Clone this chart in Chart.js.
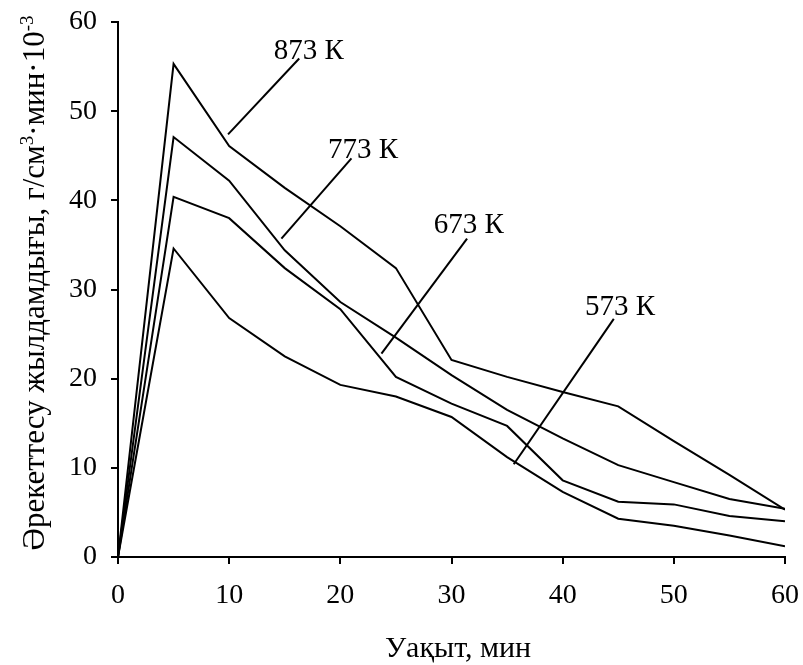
<!DOCTYPE html>
<html>
<head>
<meta charset="utf-8">
<script src="https://cdn.jsdelivr.net/npm/chart.js@4/dist/chart.umd.min.js"></script>
<style>
    html, body { margin: 0; padding: 0; background: #fff; }
    canvas { display: block; }
</style>
</head>
<body>
<canvas id="chart_rate" width="803" height="665"></canvas>
<script>
// time, min
let minutes = [0, 5, 10, 15, 20, 25, 30, 35, 40, 45, 50, 55, 60];
// rate, g/cm3*min*10^-3
let rate_873 = [0, 55.3, 46.1, 41.4, 37.1, 32.4, 22.1, 20.2, 18.5, 16.9, 13.0, 9.2, 5.3];
let rate_773 = [0, 47.1, 42.2, 34.4, 28.6, 24.6, 20.4, 16.5, 13.3, 10.3, 8.4, 6.5, 5.4];
let rate_673 = [0, 40.4, 38.0, 32.4, 27.8, 20.2, 17.2, 14.7, 8.6, 6.2, 5.9, 4.6, 4.0];
let rate_573 = [0, 34.6, 26.8, 22.5, 19.3, 18.0, 15.7, 11.2, 7.3, 4.3, 3.5, 2.4, 1.2];
let series_names = ['873 К', '773 К', '673 К', '573 К'];
let x_ticks = [0, 10, 20, 30, 40, 50, 60];
let y_ticks = [0, 10, 20, 30, 40, 50, 60];

// leader lines for the curve labels, in data units
let callouts = [
    { text: '873 К', from: [9.9, 47.4], to: [16.3, 55.9], at: [14.0, 55.8] },
    { text: '773 К', from: [14.7, 35.7], to: [21.0, 44.7], at: [18.9, 44.7] },
    { text: '673 К', from: [23.7, 22.8], to: [31.4, 35.7], at: [28.4, 36.3] },
    { text: '573 К', from: [35.6, 10.4], to: [44.6, 26.7], at: [42.0, 27.1] }
];

const serif = '"Liberation Serif", "Times New Roman", serif';

function pts(values) {
    return minutes.map((m, i) => ({ x: m, y: values[i] }));
}

function line(label, values) {
    return {
        label: label,
        data: pts(values),
        borderColor: '#000',
        borderWidth: 2,
        pointRadius: 0,
        tension: 0,
        fill: false
    };
}

const textPlugin = {
    id: 'texts',
    afterDatasetsDraw(chart) {
        const ctx = chart.ctx;
        const x = chart.scales.x;
        const y = chart.scales.y;
        ctx.save();
        ctx.strokeStyle = '#000';
        ctx.fillStyle = '#000';
        ctx.lineWidth = 2;
        ctx.font = '29px ' + serif;
        ctx.textAlign = 'left';
        ctx.textBaseline = 'alphabetic';
        callouts.forEach(c => {
            ctx.beginPath();
            ctx.moveTo(x.getPixelForValue(c.from[0]), y.getPixelForValue(c.from[1]));
            ctx.lineTo(x.getPixelForValue(c.to[0]), y.getPixelForValue(c.to[1]));
            ctx.stroke();
            ctx.fillText(c.text, x.getPixelForValue(c.at[0]), y.getPixelForValue(c.at[1]));
        });

        // x axis title
        ctx.textAlign = 'center';
        ctx.font = '30px ' + serif;
        ctx.fillText('Уақыт, мин', 458, 657);

        // y axis title, with superscripts
        let parts = [
            { t: 'Әрекеттесу жылдамдығы, г/см', sup: false },
            { t: '3', sup: true },
            { t: '·мин·10', sup: false },
            { t: '-3', sup: true }
        ];
        let big = '31px ' + serif, small = '19px ' + serif;
        let total = 0;
        parts.forEach(p => {
            ctx.font = p.sup ? small : big;
            p.w = ctx.measureText(p.t).width;
            total += p.w;
        });
        ctx.translate(44, 283);
        ctx.rotate(-Math.PI / 2);
        ctx.textAlign = 'left';
        let pos = -total / 2;
        parts.forEach(p => {
            ctx.font = p.sup ? small : big;
            ctx.fillText(p.t, pos, p.sup ? -11 : 0);
            pos += p.w;
        });
        ctx.restore();
    }
};

let ctx_rate = document.getElementById('chart_rate');
let chart_rate = new Chart(ctx_rate, {
    type: 'line',
    data: {
        datasets: [
            line(series_names[0], rate_873),
            line(series_names[1], rate_773),
            line(series_names[2], rate_673),
            line(series_names[3], rate_573)
        ]
    },
    options: {
        responsive: false,
        animation: false,
        layout: {
            padding: { top: 22, right: 18, left: 0, bottom: 0 }
        },
        plugins: {
            legend: { display: false },
            tooltip: { enabled: false }
        },
        scales: {
            x: {
                type: 'linear',
                min: 0,
                max: 60,
                afterBuildTicks: s => { s.ticks = x_ticks.map(v => ({ value: v })); },
                afterFit: s => { s.height = 108; s.paddingLeft = 0; s.paddingRight = 0; },
                border: { display: true, color: '#000', width: 2 },
                grid: { drawOnChartArea: false, drawTicks: true, tickLength: 7, color: '#000', lineWidth: 2 },
                ticks: {
                    color: '#000',
                    padding: 15,
                    maxRotation: 0,
                    font: { family: serif, size: 28 }
                }
            },
            y: {
                type: 'linear',
                min: 0,
                max: 60,
                afterBuildTicks: s => { s.ticks = y_ticks.map(v => ({ value: v })); },
                afterFit: s => { s.width = 118; s.paddingTop = 0; s.paddingBottom = 0; },
                border: { display: true, color: '#000', width: 2 },
                grid: { drawOnChartArea: false, drawTicks: true, tickLength: 7, color: '#000', lineWidth: 2 },
                ticks: {
                    color: '#000',
                    padding: 14,
                    font: { family: serif, size: 28 }
                }
            }
        }
    },
    plugins: [textPlugin]
});
</script>
</body>
</html>
